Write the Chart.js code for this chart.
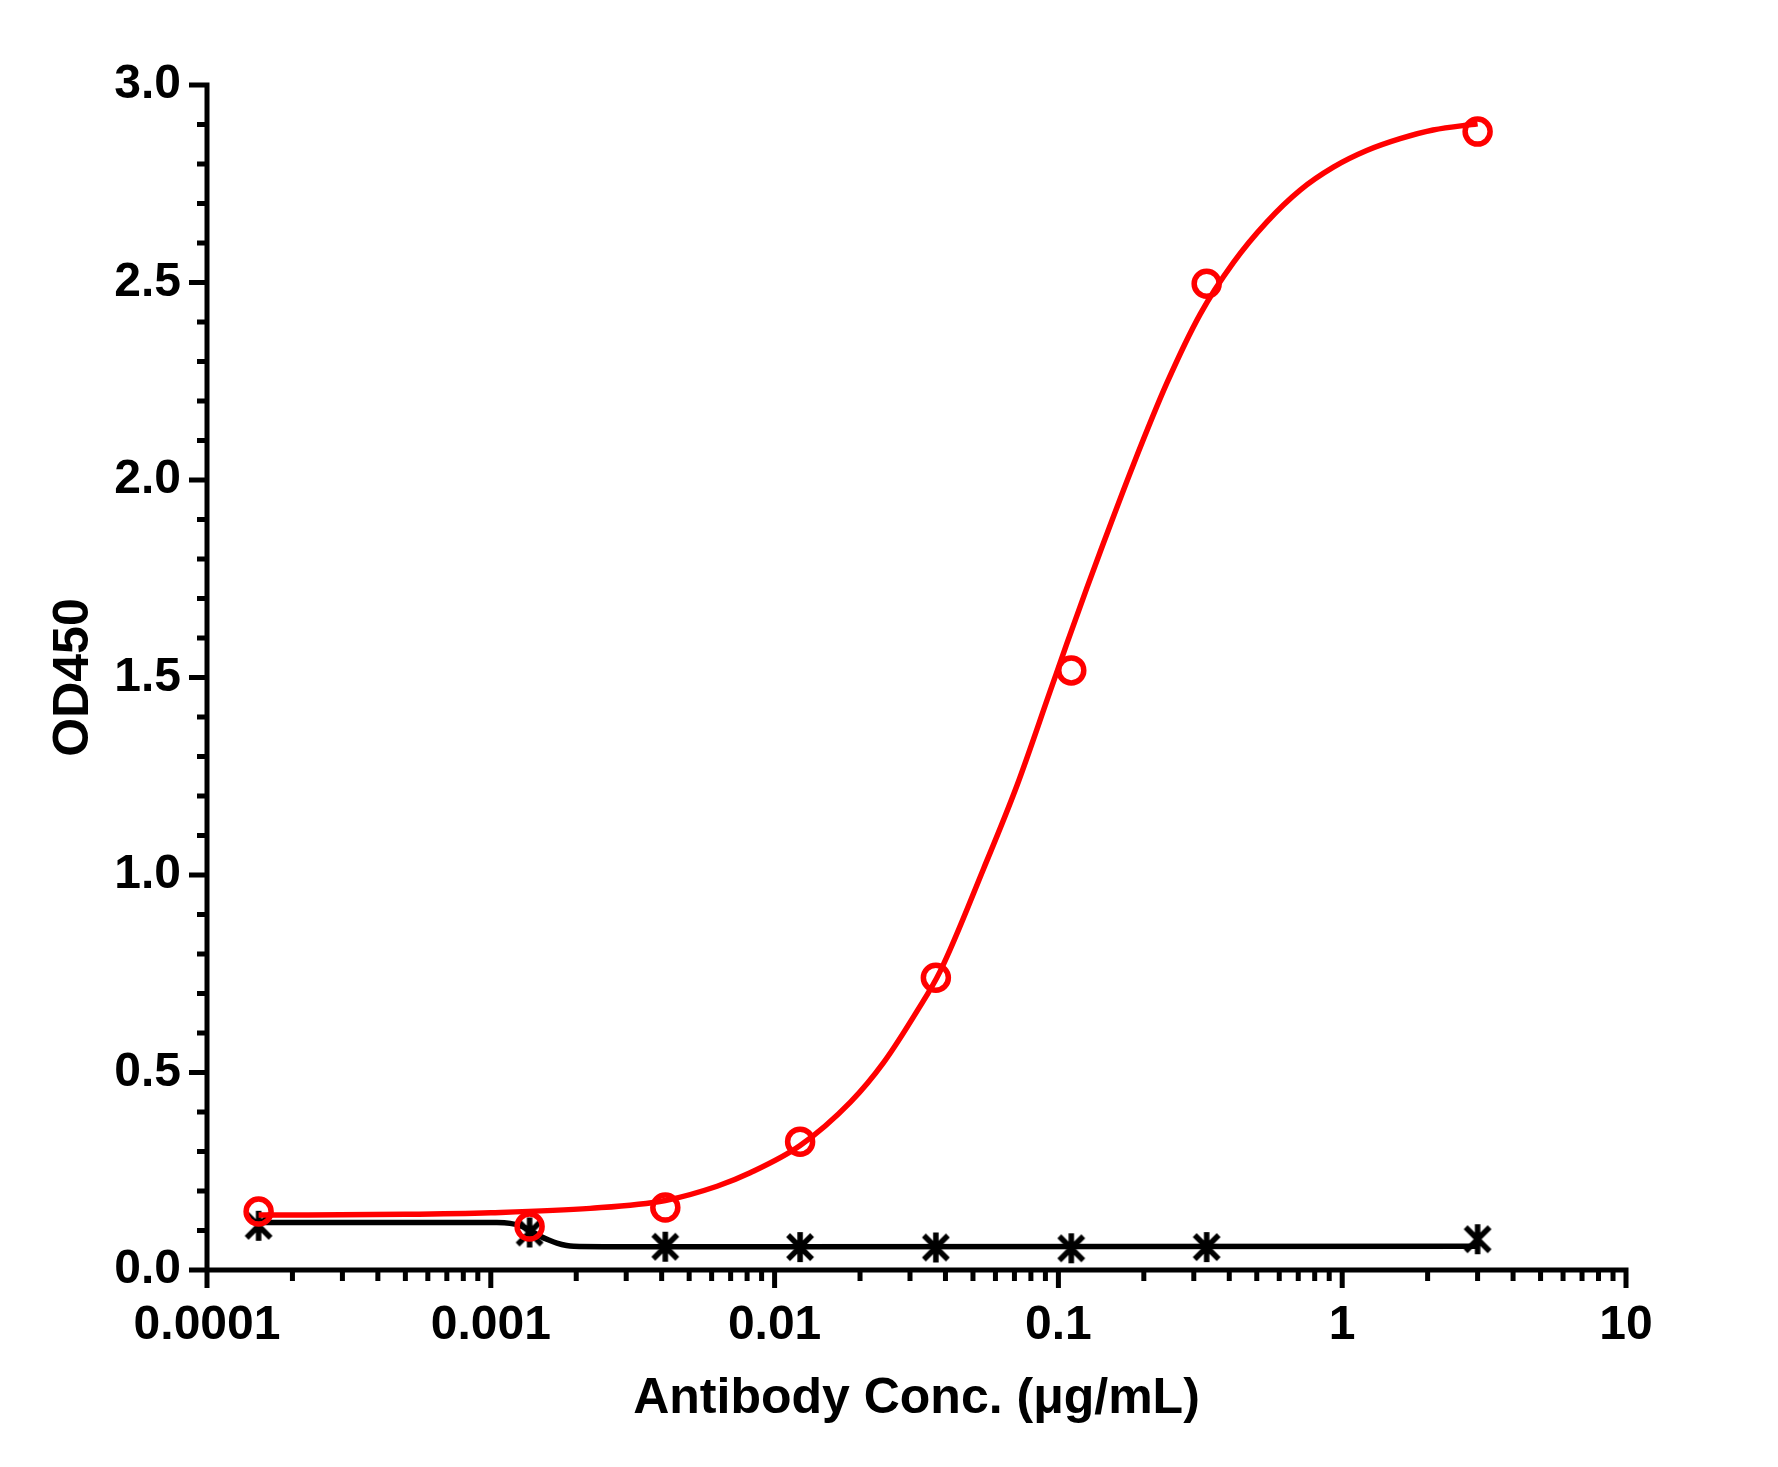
<!DOCTYPE html>
<html>
<head>
<meta charset="utf-8">
<script src="https://cdn.jsdelivr.net/npm/chart.js@4.4.1/dist/chart.umd.min.js"></script>
<style>
  body { margin: 0; background: #fff; }
  #wrap { width: 1778px; height: 1467px; }
</style>
</head>
<body>
<div id="wrap"><canvas id="odChart" width="1778" height="1467"></canvas></div>
<script>
// antibody concentrations (ug/mL), 3-fold dilution series
const concs = [0.000152, 0.00137, 0.00412, 0.0123, 0.037, 0.111, 0.333, 3];
const antigenOD = [0.148, 0.110, 0.158, 0.325, 0.740, 1.518, 2.497, 2.882];
const controlOD = [0.112, 0.095, 0.059, 0.058, 0.057, 0.055, 0.058, 0.078];

// fitted curves
const antigenFitX = [0.000152, 0.0005, 0.001, 0.00224, 0.00412, 0.00627, 0.0082, 0.0123, 0.0185, 0.0242,
  0.0318, 0.0383, 0.0545, 0.0714, 0.0936, 0.107, 0.126, 0.140, 0.184, 0.241,
  0.316, 0.414, 0.542, 0.711, 0.931, 1.22, 1.60, 2.09, 3];
const antigenFitY = [0.139, 0.141, 0.145, 0.156, 0.176, 0.212, 0.246, 0.315, 0.425, 0.525,
  0.656, 0.756, 1.016, 1.226, 1.466, 1.585, 1.727, 1.816, 2.040, 2.245,
  2.420, 2.551, 2.653, 2.734, 2.792, 2.834, 2.864, 2.886, 2.902];
const controlFitX = [0.000152, 0.00105, 0.00117, 0.00128, 0.0014, 0.0015, 0.0016, 0.00171, 0.00185, 0.00196, 0.0025, 3];
const controlFitY = [0.120, 0.120, 0.118, 0.111, 0.097, 0.085, 0.076, 0.068, 0.062, 0.060, 0.059, 0.060];

const xTicks = [0.0001, 0.001, 0.01, 0.1, 1, 10];
const xTickLabels = ['0.0001', '0.001', '0.01', '0.1', '1', '10'];
const yTicks = [0, 0.5, 1, 1.5, 2, 2.5, 3];
const yTickLabels = ['0.0', '0.5', '1.0', '1.5', '2.0', '2.5', '3.0'];

const toPoints = (xs, ys) => xs.map((v, i) => ({ x: v, y: ys[i] }));

// asterisk marker (x with a vertical bar), GraphPad style
const star = document.createElement('canvas');
star.width = 36;
star.height = 36;
(function () {
  const c = star.getContext('2d');
  c.strokeStyle = '#000';
  c.lineWidth = 5.5;
  c.beginPath();
  c.moveTo(6, 6); c.lineTo(30, 30);
  c.moveTo(30, 6); c.lineTo(6, 30);
  c.moveTo(18, 3); c.lineTo(18, 33);
  c.stroke();
})();

// axis lines + major/minor ticks
const axisPlugin = {
  id: 'axisTicks',
  beforeDatasetsDraw(chart) {
    const { ctx, chartArea: a, scales: { x, y } } = chart;
    ctx.save();
    ctx.strokeStyle = '#000';
    ctx.lineWidth = 5;
    ctx.beginPath();
    ctx.moveTo(a.left, a.top - 2.5); ctx.lineTo(a.left, a.bottom);
    ctx.moveTo(a.left, a.bottom); ctx.lineTo(a.right + 2.5, a.bottom);
    for (let i = 0; i <= 30; i++) {
      const py = y.getPixelForValue(i / 10);
      const len = i % 5 === 0 ? 18 : 10;
      ctx.moveTo(a.left - len, py); ctx.lineTo(a.left, py);
    }
    for (let d = -4; d <= 1; d++) {
      for (let k = 1; k <= 9; k++) {
        if (d === 1 && k > 1) break;
        const px = x.getPixelForValue(k * Math.pow(10, d));
        const len = k === 1 ? 18 : 11;
        ctx.moveTo(px, a.bottom); ctx.lineTo(px, a.bottom + len);
      }
    }
    ctx.stroke();
    ctx.restore();
  }
};

Chart.defaults.font.family = "'Liberation Sans', Arial, sans-serif";
Chart.defaults.color = '#000';

new Chart(document.getElementById('odChart'), {
  type: 'line',
  data: {
    datasets: [
      {
        label: 'Antigen',
        data: toPoints(concs, antigenOD),
        showLine: false,
        pointStyle: 'circle',
        pointRadius: 12.5,
        pointBorderWidth: 5.5,
        pointBorderColor: '#ff0000',
        pointBackgroundColor: 'rgba(0,0,0,0)'
      },
      {
        label: 'Antigen fit',
        data: toPoints(antigenFitX, antigenFitY),
        borderColor: '#ff0000',
        borderWidth: 5.5,
        pointRadius: 0,
        fill: false,
        cubicInterpolationMode: 'monotone'
      },
      {
        label: 'Control',
        data: toPoints(concs, controlOD),
        showLine: false,
        pointStyle: star,
        pointRadius: 14
      },
      {
        label: 'Control fit',
        data: toPoints(controlFitX, controlFitY),
        borderColor: '#000',
        borderWidth: 5.5,
        pointRadius: 0,
        fill: false,
        cubicInterpolationMode: 'monotone'
      }
    ]
  },
  options: {
    responsive: false,
    animation: false,
    devicePixelRatio: 1,
    clip: false,
    layout: { padding: { top: 85, right: 152, bottom: 0, left: 0 } },
    plugins: { legend: { display: false }, tooltip: { enabled: false } },
    scales: {
      x: {
        type: 'logarithmic',
        min: 0.0001,
        max: 10,
        grid: { display: false, drawTicks: false },
        border: { display: false },
        afterBuildTicks: (scale) => { scale.ticks = xTicks.map(v => ({ value: v })); },
        afterFit: (scale) => { scale.height = 197; },
        ticks: {
          autoSkip: false,
          maxRotation: 0,
          padding: 27,
          font: { size: 48, weight: 'bold' },
          callback: (v, i) => xTickLabels[i]
        },
        title: {
          display: true,
          text: 'Antibody Conc. (μg/mL)',
          font: { size: 50, weight: 'bold' },
          padding: { top: 0, bottom: 38 }
        }
      },
      y: {
        type: 'linear',
        min: 0,
        max: 3,
        grid: { display: false, drawTicks: false },
        border: { display: false },
        afterBuildTicks: (scale) => { scale.ticks = yTicks.map(v => ({ value: v })); },
        afterFit: (scale) => { scale.width = 207; },
        ticks: {
          padding: 26,
          font: { size: 48, weight: 'bold' },
          callback: (v, i) => yTickLabels[i]
        },
        title: {
          display: true,
          text: 'OD450',
          font: { size: 50, weight: 'bold' },
          padding: { top: 44, bottom: 0 }
        }
      }
    }
  },
  plugins: [axisPlugin]
});
</script>
</body>
</html>
